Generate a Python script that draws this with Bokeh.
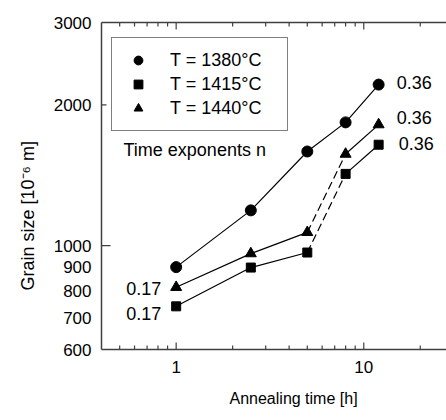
import math
from bokeh.plotting import figure
from bokeh.models import (Range1d, FixedTicker, LogAxis, Legend, LegendItem,
                          ColumnDataSource, CustomJSTickFormatter, Title)
from bokeh.core.properties import value
from bokeh.embed import file_html
from bokeh.resources import INLINE

# ---- data -------------------------------------------------------------
times = [1, 2.5, 5, 8, 12]                       # annealing time [h]
g_1380 = [900, 1190, 1590, 1835, 2210]          # grain size [1e-6 m]
g_1415 = [742, 898, 967, 1424, 1644]
g_1440 = [815, 962, 1068, 1570, 1815]
series_names = ["T = 1380°C", "T = 1415°C", "T = 1440°C"]
exp_short = ["0.17", "0.17"]                     # 1440, 1415 at short times
exp_long = ["0.36", "0.36", "0.36"]              # 1380, 1440, 1415 at long times
x_ticks = [1, 10]
x_minor = [0.5, 0.6, 0.7, 0.8, 0.9, 2, 3, 4, 5, 6, 7, 8, 9, 20]
y_ticks = [600, 700, 800, 900, 1000, 2000, 3000]
y_marked = [1000, 2000]
x_title = "Annealing time [h]"
y_title = "Grain size [10⁻⁶ m]"

FONT = "Liberation Sans"
AX = "#404040"
X0, X1, Y0, Y1 = 0.4, 27.6, 600, 3000
FRAME_W, FRAME_H = 345, 327           # plot frame size in pixels

p = figure(width=446, height=420, x_axis_type="log", y_axis_type="log",
           x_range=Range1d(X0, X1), y_range=Range1d(Y0, Y1),
           output_backend="svg", toolbar_location=None,
           min_border_left=101, min_border_top=22, min_border_bottom=71,
           min_border_right=0)
p.outline_line_color = None
p.grid.visible = False


def style_axis(ax):
    ax.major_tick_in = 0
    ax.major_tick_out = 0
    ax.minor_tick_in = 0
    ax.minor_tick_out = 0
    ax.axis_line_color = AX
    ax.axis_line_width = 1.5


# x axis (bottom)
xa = p.xaxis[0]
xa.ticker = FixedTicker(ticks=x_ticks, minor_ticks=[])
xa.formatter = CustomJSTickFormatter(code="return String(tick);")
style_axis(xa)
xa.major_label_text_font = FONT
xa.major_label_text_font_size = "17px"
xa.major_label_text_color = "black"
xa.major_label_standoff = 11

# top axis (line only)
ta = LogAxis(ticker=FixedTicker(ticks=x_ticks, minor_ticks=[]),
             formatter=CustomJSTickFormatter(code="return '';"),
             major_label_text_font_size="10px", major_label_standoff=0)
style_axis(ta)
p.add_layout(ta, "above")

# y axis
ya = p.yaxis[0]
ya.ticker = FixedTicker(ticks=y_ticks, minor_ticks=[])
ya.formatter = CustomJSTickFormatter(code="return String(tick);")
style_axis(ya)
ya.major_label_text_font = FONT
ya.major_label_text_font_size = "17px"
ya.major_label_text_color = "black"
ya.major_label_standoff = 10

# inward tick marks, drawn as short segments (length given in pixels)
px_dec_x = FRAME_W / math.log10(X1 / X0)
px_dec_y = FRAME_H / math.log10(Y1 / Y0)


def ystep(px):
    return 10 ** (px / px_dec_y)


def xstep(px):
    return 10 ** (px / px_dec_x)


for ticks, length in ((x_ticks, 7), (x_minor, 4)):
    n = len(ticks)
    p.segment(x0=ticks, y0=[Y0] * n, x1=ticks, y1=[Y0 * ystep(length)] * n,
              line_color=AX, line_width=1.2)
    p.segment(x0=ticks, y0=[Y1] * n, x1=ticks, y1=[Y1 / ystep(length)] * n,
              line_color=AX, line_width=1.2)
p.segment(x0=[X0] * 2, y0=y_marked,
          x1=[X0 * xstep(9), X0 * xstep(5)], y1=y_marked,
          line_color=AX, line_width=1.2)

# axis titles (reference frame extends past the window, so offset them)
p.add_layout(Title(text=x_title, align="left", offset=128, standoff=24,
                   text_font=FONT, text_font_size="16px",
                   text_font_style="normal", text_color="black"), "below")
p.add_layout(Title(text=y_title, align="left", offset=59, standoff=25,
                   text_font=FONT, text_font_size="18px",
                   text_font_style="normal", text_color="black"), "left")

# ---- lines ------------------------------------------------------------
p.line(times, g_1380, line_color="black", line_width=1.2)
for g in (g_1415, g_1440):
    p.line(times[:3], g[:3], line_color="black", line_width=1.2)
    p.line(times[2:4], g[2:4], line_color="black", line_width=1.2,
           line_dash="8 4")
    p.line(times[3:], g[3:], line_color="black", line_width=1.2)

# ---- markers ----------------------------------------------------------
r_c = p.scatter(times, g_1380, marker="circle", size=11, color="black")
r_s = p.scatter(times, g_1415, marker="square", size=9, color="black")
r_t = p.scatter(times, g_1440, marker="triangle", size=11, color="black")

# ---- exponent labels --------------------------------------------------
src_long = ColumnDataSource(dict(x=[times[-1]] * 3,
                                 y=[g_1380[-1], g_1440[-1], g_1415[-1]],
                                 t=exp_long, yo=[-2, -7, -1], xo=[18, 18, 20]))
p.text(x="x", y="y", text="t", source=src_long, x_offset="xo", y_offset="yo",
       text_font=value(FONT), text_font_size="18px",
       text_baseline="middle", text_align="left", text_color="black")
src_short = ColumnDataSource(dict(x=[times[0]] * 2,
                                  y=[g_1440[0], g_1415[0]],
                                  t=exp_short, yo=[1, 7]))
p.text(x="x", y="y", text="t", source=src_short, x_offset=-15, y_offset="yo",
       text_font=value(FONT), text_font_size="18px",
       text_baseline="middle", text_align="right", text_color="black")

p.text(x=[0.524], y=[1604], text=["Time exponents n"],
       text_font=value(FONT), text_font_size="18px",
       text_baseline="middle", text_align="left", text_color="black")

# ---- legend -----------------------------------------------------------
legend = Legend(items=[LegendItem(label=series_names[0], renderers=[r_c]),
                       LegendItem(label=series_names[1], renderers=[r_s]),
                       LegendItem(label=series_names[2], renderers=[r_t])],
                location=(10, 218), orientation="vertical",
                border_line_color="black", border_line_width=1,
                background_fill_color="white", background_fill_alpha=1,
                padding=11, spacing=2, margin=0,
                glyph_width=30, glyph_height=22, label_height=22,
                label_width=106,
                label_standoff=17, label_text_font=FONT,
                label_text_font_size="18px", label_text_color="black")
p.add_layout(legend)

open("out.html", "w").write(file_html(p, INLINE))
